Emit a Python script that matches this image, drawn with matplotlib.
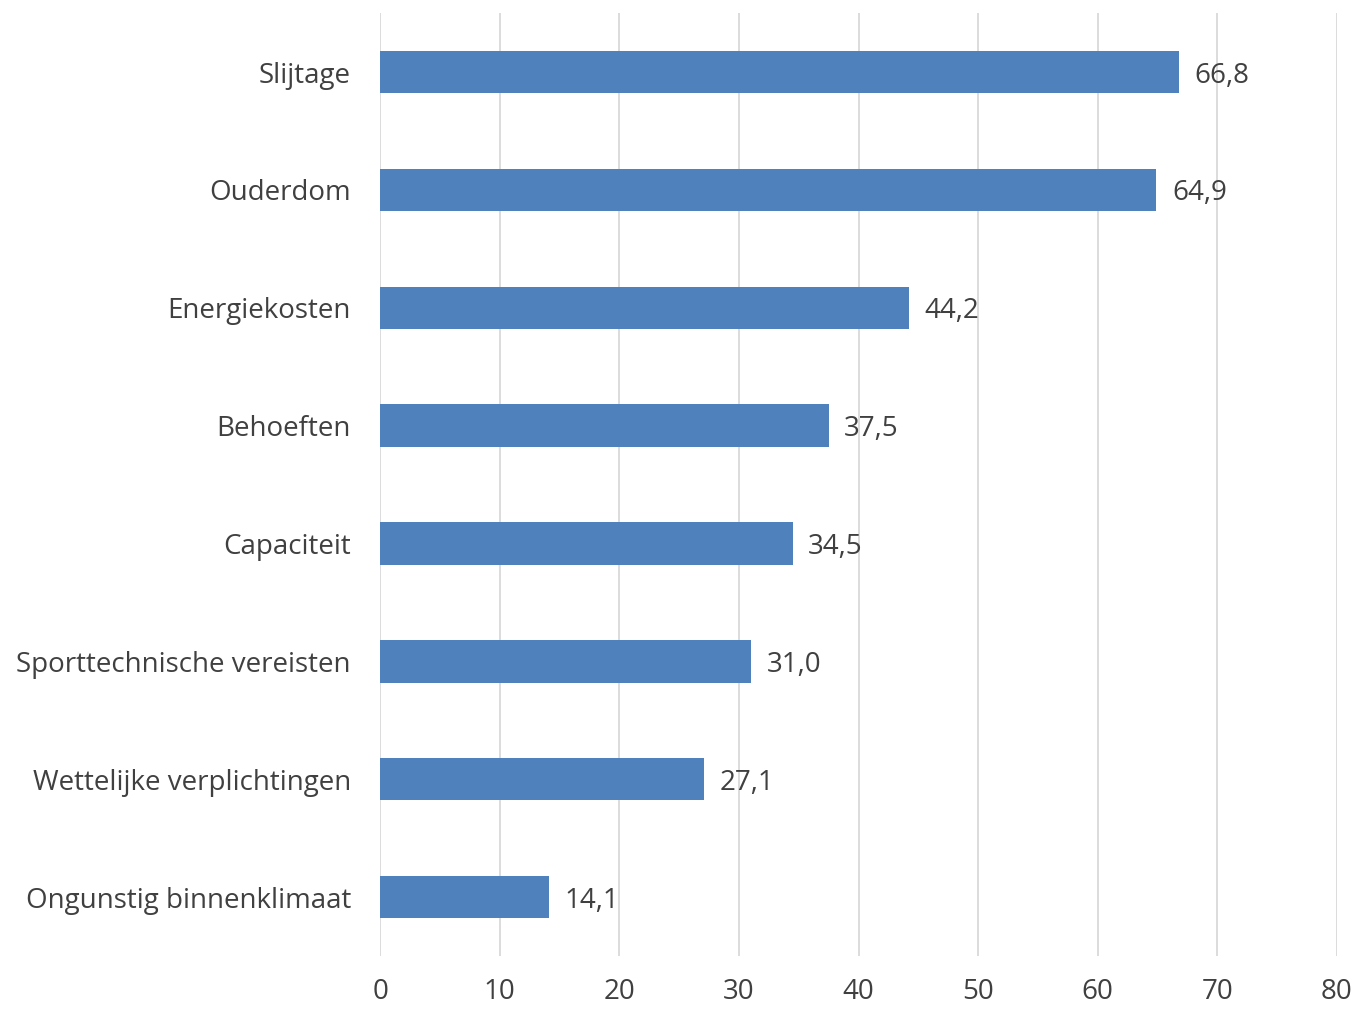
import matplotlib.pyplot as plt

plt.rcParams['font.family'] = ['Open Sans', 'DejaVu Sans']

categories = ['Slijtage', 'Ouderdom', 'Energiekosten', 'Behoeften', 'Capaciteit',
              'Sporttechnische vereisten', 'Wettelijke verplichtingen',
              'Ongunstig binnenklimaat']
values = [66.8, 64.9, 44.2, 37.5, 34.5, 31.0, 27.1, 14.1]
xticks = [0, 10, 20, 30, 40, 50, 60, 70, 80]

text_color = '#404040'
fs = 20

fig = plt.figure(figsize=(13.54, 10.10), dpi=100)
ax = fig.add_axes([0.2807, 0.0535, 0.7067, 0.9335])

pos = list(range(len(categories)))[::-1]
ax.barh(pos, values, height=0.36, color='#4F81BD', zorder=3)

for p, v in zip(pos, values):
    ax.text(v + 1.3, p - 0.03, f'{v:.1f}'.replace('.', ','), va='center', ha='left',
            fontsize=fs, color=text_color)

ax.set_xlim(0, 80)
ax.set_ylim(-0.5, len(categories) - 0.5)
ax.set_xticks(xticks)
ax.set_yticks(pos)
ax.set_yticklabels(categories)
ax.tick_params(axis='both', length=0, labelsize=fs, colors=text_color)
ax.tick_params(axis='y', pad=21)
ax.tick_params(axis='x', pad=16)
ax.xaxis.grid(True, color='#D9D9D9', linewidth=1.3, zorder=0)
for s in ax.spines.values():
    s.set_visible(False)

fig.savefig('out.png', dpi=100)
